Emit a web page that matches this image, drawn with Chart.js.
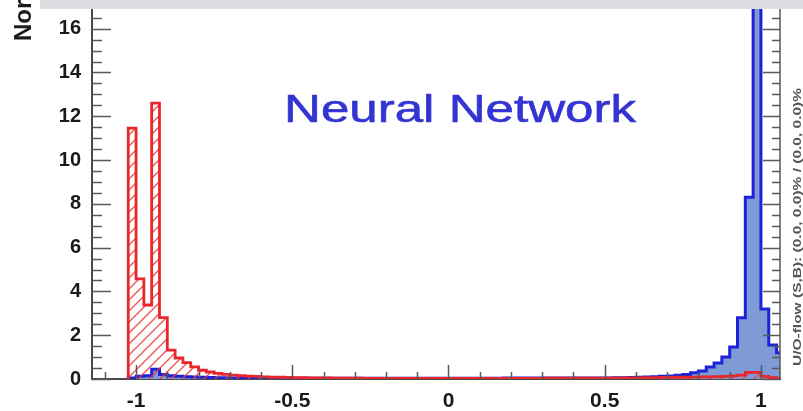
<!DOCTYPE html>
<html>
<head>
<meta charset="utf-8">
<script src="https://cdn.jsdelivr.net/npm/chart.js@4/dist/chart.umd.min.js"></script>
<style>
  html, body { margin: 0; padding: 0; background: #ffffff; }
  canvas { display: block; }
</style>
</head>
<body>
<canvas id="nnOutput" width="803" height="411"></canvas>
<script>
// histogram binning of the classifier output
var binStart = -1.025;
var binWidth = 0.025;

// background (red, hatched)
var backgroundValues = [
  11.46, 4.57, 3.38, 12.6, 2.8, 1.32, 0.96, 0.75, 0.55, 0.4,
  0.32, 0.26, 0.21, 0.18, 0.15, 0.13, 0.12, 0.1, 0.09, 0.08,
  0.07, 0.06, 0.06, 0.05, 0.05, 0.05, 0.04, 0.04, 0.04, 0.04,
  0.03, 0.03, 0.03, 0.03, 0.03, 0.03, 0.03, 0.03, 0.03, 0.03,
  0.03, 0.03, 0.03, 0.03, 0.03, 0.03, 0.03, 0.03, 0.03, 0.03,
  0.03, 0.03, 0.03, 0.04, 0.04, 0.04, 0.04, 0.04, 0.04, 0.04,
  0.04, 0.04, 0.04, 0.05, 0.05, 0.05, 0.06, 0.06, 0.07, 0.07,
  0.08, 0.08, 0.09, 0.1, 0.1, 0.11, 0.12, 0.14, 0.18, 0.3,
  0.3, 0.12, 0.06, 0.04
];

// signal (blue, filled)
var signalValues = [
  0.05, 0.12, 0.15, 0.45, 0.2, 0.15, 0.12, 0.1, 0.09, 0.08,
  0.07, 0.06, 0.06, 0.05, 0.05, 0.05, 0.04, 0.04, 0.04, 0.04,
  0.03, 0.03, 0.03, 0.03, 0.03, 0.03, 0.03, 0.03, 0.03, 0.03,
  0.03, 0.03, 0.03, 0.03, 0.03, 0.03, 0.03, 0.03, 0.03, 0.03,
  0.03, 0.03, 0.03, 0.03, 0.03, 0.03, 0.03, 0.03, 0.04, 0.04,
  0.04, 0.04, 0.04, 0.05, 0.05, 0.05, 0.05, 0.05, 0.05, 0.05,
  0.05, 0.05, 0.06, 0.06, 0.07, 0.08, 0.09, 0.1, 0.12, 0.14,
  0.17, 0.2, 0.28, 0.37, 0.55, 0.73, 1.0, 1.46, 2.8, 8.3,
  19.5, 3.2, 1.55, 1.2
];

var xTickLabels = [-1, -0.5, 0, 0.5, 1];
var yTickLabels = [0, 2, 4, 6, 8, 10, 12, 14, 16];
var xMin = -1.141, xMax = 1.061;
var yMin = 0, yMax = 16.9;

var titleText = 'Neural Network';
var yTitle = 'Normalized';
var flowText = 'U/O-flow (S,B): (0.0, 0.0)% / (0.0, 0.0)%';

// turn bin contents into a closed step outline
function histPoints(values) {
  var pts = [{ x: binStart, y: 0 }];
  for (var i = 0; i < values.length; i++) {
    pts.push({ x: binStart + i * binWidth, y: values[i] });
  }
  pts.push({ x: binStart + values.length * binWidth, y: 0 });
  return pts;
}

function hatchPattern() {
  var c = document.createElement('canvas');
  c.width = 11; c.height = 11;
  var g = c.getContext('2d');
  g.strokeStyle = 'rgba(236,60,60,0.9)';
  g.lineWidth = 1.3;
  g.beginPath();
  g.moveTo(0, 11); g.lineTo(11, 0);
  g.moveTo(-2, 2); g.lineTo(2, -2);
  g.moveTo(9, 13); g.lineTo(13, 9);
  g.stroke();
  return g.createPattern(c, 'repeat');
}

// keep the plot frame exactly where the axes put it
function noLabelPadding(s) {
  s.paddingTop = 0; s.paddingBottom = 0;
  s.paddingLeft = 0; s.paddingRight = 0;
}

// inner ticks, right frame, captions and the grey strip on top
var frameDecor = {
  id: 'frameDecor',
  afterDatasetsDraw: function(chart) {
    var ctx = chart.ctx, a = chart.chartArea;
    var xs = chart.scales.x, ys = chart.scales.y;
    ctx.save();
    ctx.strokeStyle = '#5a5a5a';
    ctx.lineWidth = 1.5;
    ctx.beginPath();
    // right frame
    ctx.moveTo(a.right, a.top);
    ctx.lineTo(a.right, a.bottom);
    var v, p, len;
    for (v = 0; v <= yMax; v += 0.5) {
      p = Math.round(ys.getPixelForValue(v)) + 0.5;
      len = (Math.round(v * 2) % 4 === 0) ? 19 : 10;
      ctx.moveTo(a.left, p); ctx.lineTo(a.left + len, p);
      ctx.moveTo(a.right, p); ctx.lineTo(a.right - len + 2, p);
    }
    for (var k = -11; k <= 10; k++) {
      v = k / 10;
      p = Math.round(xs.getPixelForValue(v)) + 0.5;
      len = (k % 5 === 0) ? 14 : 7;
      ctx.moveTo(p, a.bottom); ctx.lineTo(p, a.bottom - len);
    }
    ctx.stroke();
    ctx.restore();
  },
  afterDraw: function(chart) {
    var ctx = chart.ctx;
    ctx.save();
    // title inside the frame
    ctx.font = '39px "Liberation Sans", Arial, sans-serif';
    ctx.fillStyle = '#3434d2';
    ctx.strokeStyle = '#3434d2';
    ctx.lineWidth = 0.6;
    ctx.textBaseline = 'alphabetic';
    var w = ctx.measureText(titleText).width;
    ctx.translate(284, 122);
    ctx.scale(352 / w, 1);
    ctx.fillText(titleText, 0, 0);
    ctx.strokeText(titleText, 0, 0);
    ctx.restore();

    // y axis title, running off the top
    ctx.save();
    ctx.font = 'bold 24px "Liberation Sans", Arial, sans-serif';
    ctx.fillStyle = '#1a1a1a';
    ctx.translate(31, 41);
    ctx.rotate(-Math.PI / 2);
    ctx.fillText(yTitle, 0, 0);
    ctx.restore();

    // under/overflow note on the right edge
    ctx.save();
    ctx.font = 'bold 11px "Liberation Sans", Arial, sans-serif';
    ctx.fillStyle = '#555555';
    ctx.translate(801, 366);
    ctx.rotate(-Math.PI / 2);
    var fw = ctx.measureText(flowText).width;
    ctx.scale(278 / fw, 1);
    ctx.fillText(flowText, 0, 0);
    ctx.restore();

    ctx.save();
    ctx.fillStyle = '#dcdde0';
    ctx.fillRect(40, 0, chart.width - 40, 9);
    ctx.restore();
  }
};

var ctx = document.getElementById('nnOutput').getContext('2d');
var chart = new Chart(ctx, {
  type: 'line',
  data: {
    datasets: [
      {
        label: 'Background',
        data: histPoints(backgroundValues),
        stepped: 'before',
        borderColor: '#e8262b',
        borderWidth: 2.8,
        backgroundColor: hatchPattern(),
        fill: 'origin',
        pointRadius: 0,
        borderJoinStyle: 'miter'
      },
      {
        label: 'Signal',
        data: histPoints(signalValues),
        stepped: 'before',
        borderColor: '#1e22d8',
        borderWidth: 3,
        backgroundColor: '#7e9bd6',
        fill: 'origin',
        pointRadius: 0,
        borderJoinStyle: 'miter'
      }
    ]
  },
  options: {
    responsive: false,
    animation: false,
    layout: { padding: { top: 9, right: 23, left: 0, bottom: 0 } },
    plugins: {
      legend: { display: false },
      tooltip: { enabled: false }
    },
    scales: {
      x: {
        type: 'linear',
        min: xMin,
        max: xMax,
        afterBuildTicks: function(s) { s.ticks = xTickLabels.map(function(v) { return { value: v }; }); },
        afterFit: function(s) { s.height = 32; noLabelPadding(s); },
        grid: { display: false, drawTicks: false },
        border: { display: true, color: '#4a4a4a', width: 2 },
        ticks: {
          padding: 10,
          maxRotation: 0,
          autoSkip: false,
          color: '#1a1a1a',
          font: { family: '"Liberation Sans", Arial, sans-serif', size: 21, weight: 'bold' },
          callback: function(v) { return String(v); }
        }
      },
      y: {
        min: yMin,
        max: yMax,
        afterBuildTicks: function(s) { s.ticks = yTickLabels.map(function(v) { return { value: v }; }); },
        afterFit: function(s) { s.width = 92; noLabelPadding(s); },
        grid: { display: false, drawTicks: false },
        border: { display: true, color: '#4a4a4a', width: 2 },
        ticks: {
          padding: 11,
          autoSkip: false,
          color: '#1a1a1a',
          font: { family: '"Liberation Sans", Arial, sans-serif', size: 20, weight: 'bold' },
          callback: function(v) { return String(v); }
        }
      }
    }
  },
  plugins: [frameDecor]
});
</script>
</body>
</html>
